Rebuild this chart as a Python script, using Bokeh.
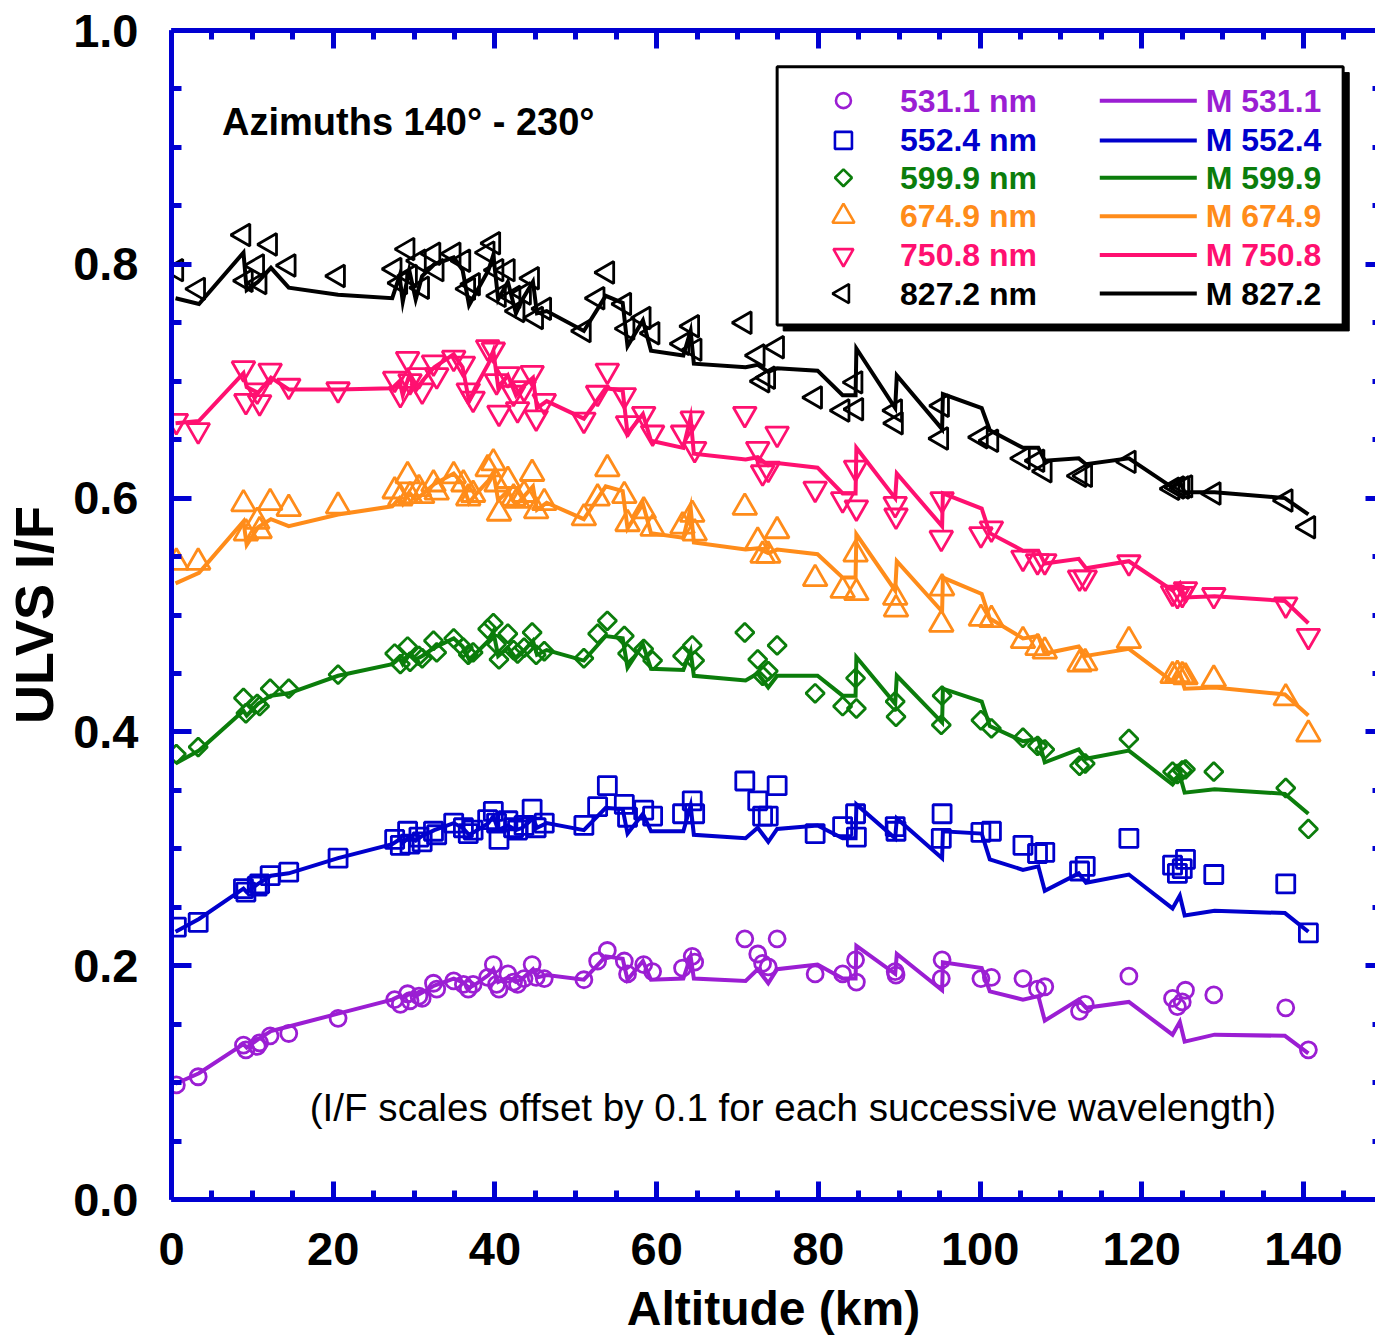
import math

from bokeh.plotting import figure
from bokeh.models import (Range1d, LinearAxis, SingleIntervalTicker,
                          PrintfTickFormatter, Label, ColumnDataSource)
from bokeh.core.properties import value
from bokeh.embed import file_html
from bokeh.resources import INLINE

# ---------------------------------------------------------------- data
# Altitudes (km) of the measured spectra, shared by every wavelength
obs_alt = [0.6, 3.3, 8.9, 9.2, 10.6, 10.9, 12.2, 14.5, 20.6, 27.6,
           28.3, 29.2, 29.5, 30.6, 31.0, 32.4, 32.8, 34.9, 36.1, 36.7,
           37.3, 39.1, 39.8, 40.2, 40.5, 41.6, 42.3, 42.8, 43.6, 44.6,
           45.1, 46.1, 51.0, 52.7, 53.9, 56.0, 56.4, 58.4, 59.5, 63.2,
           64.4, 64.7, 70.9, 72.5, 73.1, 73.8, 74.9, 79.6, 83.0, 84.6,
           84.7, 89.5, 89.6, 95.2, 95.3, 100.1, 101.4, 105.3, 107.1, 108.0,
           112.3, 113.0, 118.4, 123.8, 124.4, 125.0, 125.4, 128.9, 137.8, 140.6]

# Measured ULVS I/F (offset by 0.1 per wavelength)
obs_531 = [0.098, 0.105, 0.132, 0.128, 0.131, 0.134, 0.140, 0.142, 0.155, 0.171,
           0.167, 0.176, 0.170, 0.174, 0.172, 0.185, 0.180, 0.187, 0.184, 0.180,
           0.184, 0.190, 0.201, 0.184, 0.180, 0.193, 0.186, 0.184, 0.189, 0.201,
           0.190, 0.189, 0.188, 0.204, 0.213, 0.204, 0.193, 0.201, 0.195, 0.198,
           0.208, 0.203, 0.223, 0.210, 0.202, 0.199, 0.223, 0.193, 0.193, 0.205,
           0.186, 0.195, 0.192, 0.189, 0.205, 0.189, 0.190, 0.189, 0.180, 0.182,
           0.161, 0.167, 0.191, 0.172, 0.165, 0.169, 0.179, 0.175, 0.164, 0.128]
obs_552 = [0.233, 0.237, 0.266, 0.263, 0.268, 0.270, 0.277, 0.280, 0.292, 0.308,
           0.303, 0.315, 0.304, 0.310, 0.306, 0.315, 0.312, 0.322, 0.318, 0.313,
           0.316, 0.325, 0.332, 0.322, 0.308, 0.324, 0.318, 0.316, 0.320, 0.334,
           0.318, 0.322, 0.320, 0.336, 0.354, 0.338, 0.327, 0.333, 0.328, 0.330,
           0.341, 0.330, 0.358, 0.341, 0.328, 0.328, 0.354, 0.313, 0.319, 0.330,
           0.310, 0.319, 0.315, 0.309, 0.330, 0.314, 0.315, 0.303, 0.296, 0.297,
           0.281, 0.285, 0.309, 0.286, 0.279, 0.283, 0.291, 0.278, 0.270, 0.228]
obs_600 = [0.381, 0.387, 0.429, 0.416, 0.424, 0.422, 0.437, 0.437, 0.449, 0.467,
           0.458, 0.473, 0.460, 0.465, 0.463, 0.478, 0.468, 0.480, 0.472, 0.466,
           0.468, 0.488, 0.493, 0.475, 0.462, 0.484, 0.470, 0.467, 0.472, 0.485,
           0.466, 0.469, 0.463, 0.484, 0.495, 0.482, 0.467, 0.471, 0.461, 0.465,
           0.474, 0.461, 0.485, 0.462, 0.448, 0.452, 0.474, 0.433, 0.422, 0.446,
           0.420, 0.426, 0.413, 0.406, 0.431, 0.410, 0.403, 0.395, 0.388, 0.385,
           0.371, 0.373, 0.394, 0.366, 0.364, 0.367, 0.368, 0.366, 0.352, 0.317]
obs_675 = [0.545, 0.545, 0.595, 0.570, 0.580, 0.572, 0.596, 0.591, 0.593, 0.606,
           0.600, 0.619, 0.602, 0.608, 0.602, 0.612, 0.605, 0.619, 0.612, 0.600,
           0.603, 0.625, 0.630, 0.612, 0.587, 0.615, 0.600, 0.598, 0.603, 0.621,
           0.589, 0.596, 0.583, 0.600, 0.625, 0.602, 0.578, 0.589, 0.574, 0.576,
           0.586, 0.570, 0.592, 0.563, 0.551, 0.551, 0.572, 0.531, 0.521, 0.552,
           0.519, 0.515, 0.505, 0.492, 0.523, 0.497, 0.496, 0.478, 0.472, 0.469,
           0.458, 0.459, 0.478, 0.448, 0.449, 0.448, 0.447, 0.445, 0.429, 0.398]
obs_751 = [0.666, 0.658, 0.711, 0.683, 0.692, 0.682, 0.709, 0.696, 0.693, 0.702,
           0.689, 0.719, 0.700, 0.705, 0.692, 0.716, 0.705, 0.720, 0.715, 0.692,
           0.685, 0.729, 0.727, 0.700, 0.673, 0.706, 0.690, 0.676, 0.694, 0.707,
           0.669, 0.683, 0.667, 0.690, 0.709, 0.688, 0.664, 0.672, 0.656, 0.656,
           0.668, 0.642, 0.672, 0.642, 0.622, 0.625, 0.655, 0.608, 0.599, 0.626,
           0.592, 0.595, 0.585, 0.566, 0.599, 0.569, 0.574, 0.549, 0.546, 0.546,
           0.532, 0.532, 0.545, 0.519, 0.517, 0.518, 0.522, 0.517, 0.509, 0.482]
obs_827 = [0.795, 0.779, 0.825, 0.786, 0.799, 0.784, 0.817, 0.799, 0.790, 0.796,
           0.784, 0.813, 0.790, 0.803, 0.780, 0.809, 0.795, 0.809, 0.803, 0.779,
           0.783, 0.810, 0.818, 0.795, 0.773, 0.795, 0.772, 0.760, 0.775, 0.788,
           0.754, 0.762, 0.743, 0.771, 0.793, 0.766, 0.745, 0.754, 0.741, 0.732,
           0.747, 0.727, 0.750, 0.722, 0.700, 0.703, 0.729, 0.686, 0.675, 0.699,
           0.676, 0.675, 0.664, 0.651, 0.679, 0.652, 0.649, 0.634, 0.632, 0.623,
           0.619, 0.619, 0.631, 0.608, 0.609, 0.609, 0.610, 0.604, 0.598, 0.575]

# Model curve vertices (km), shared by every wavelength
mod_alt = [0.5, 3.4, 8.9, 9.3, 10.7, 12.3, 14.5, 20.6, 27.3,
           28.2, 28.6, 29.4, 30.2, 31.0, 32.5, 34.9, 36.0, 36.8, 37.6,
           39.2, 39.8, 40.4, 41.6, 42.6, 43.4, 44.7, 45.2, 46.4,
           51.0, 53.7, 55.8, 56.4, 58.3, 59.3, 63.3, 64.2, 64.6, 71.0,
           72.5, 73.8, 74.9, 79.9, 83.0, 84.6, 84.7, 89.5, 89.7, 95.3,
           95.4, 100.2, 101.2, 105.3, 107.2, 108.0, 112.2, 113.1, 118.4,
           123.8, 124.7, 125.3, 129.0, 137.7, 140.6]

mod_531 = [0.099, 0.108, 0.133, 0.130, 0.137, 0.144, 0.148, 0.159, 0.171,
           0.174, 0.172, 0.176, 0.174, 0.177, 0.183, 0.189, 0.186, 0.181, 0.184,
           0.192, 0.197, 0.186, 0.190, 0.186, 0.189, 0.197, 0.190, 0.192,
           0.188, 0.208, 0.206, 0.188, 0.204, 0.188, 0.189, 0.208, 0.189, 0.187,
           0.197, 0.185, 0.197, 0.201, 0.189, 0.189, 0.217, 0.193, 0.210, 0.179,
           0.203, 0.198, 0.178, 0.171, 0.174, 0.153, 0.171, 0.164, 0.169,
           0.141, 0.152, 0.135, 0.141, 0.140, 0.125]
mod_552 = [0.229, 0.240, 0.266, 0.263, 0.270, 0.277, 0.279, 0.292, 0.304,
           0.308, 0.305, 0.310, 0.307, 0.311, 0.316, 0.322, 0.318, 0.312, 0.315,
           0.322, 0.328, 0.316, 0.320, 0.316, 0.318, 0.326, 0.318, 0.322,
           0.316, 0.335, 0.334, 0.313, 0.330, 0.315, 0.315, 0.337, 0.312, 0.309,
           0.318, 0.306, 0.317, 0.320, 0.309, 0.309, 0.338, 0.309, 0.326, 0.292,
           0.315, 0.313, 0.291, 0.282, 0.285, 0.264, 0.279, 0.271, 0.278,
           0.249, 0.260, 0.243, 0.247, 0.245, 0.229]
mod_600 = [0.373, 0.384, 0.418, 0.414, 0.424, 0.431, 0.433, 0.448, 0.458,
           0.463, 0.458, 0.466, 0.462, 0.465, 0.472, 0.480, 0.473, 0.462, 0.467,
           0.478, 0.486, 0.465, 0.472, 0.463, 0.468, 0.478, 0.466, 0.470,
           0.461, 0.482, 0.480, 0.455, 0.475, 0.454, 0.453, 0.469, 0.448, 0.444,
           0.450, 0.438, 0.448, 0.448, 0.431, 0.431, 0.464, 0.424, 0.448, 0.408,
           0.437, 0.426, 0.405, 0.392, 0.394, 0.374, 0.385, 0.377, 0.384,
           0.355, 0.363, 0.348, 0.351, 0.347, 0.330]
mod_675 = [0.527, 0.536, 0.580, 0.560, 0.575, 0.582, 0.576, 0.586, 0.593,
           0.600, 0.595, 0.605, 0.598, 0.603, 0.612, 0.621, 0.612, 0.596, 0.603,
           0.615, 0.622, 0.598, 0.606, 0.594, 0.600, 0.610, 0.590, 0.596,
           0.582, 0.610, 0.606, 0.574, 0.595, 0.570, 0.566, 0.592, 0.562, 0.556,
           0.557, 0.553, 0.556, 0.552, 0.532, 0.532, 0.569, 0.521, 0.546, 0.503,
           0.532, 0.518, 0.497, 0.480, 0.482, 0.467, 0.473, 0.465, 0.471,
           0.443, 0.450, 0.437, 0.438, 0.432, 0.414]
mod_751 = [0.664, 0.666, 0.707, 0.695, 0.690, 0.703, 0.693, 0.693, 0.694,
           0.700, 0.688, 0.705, 0.692, 0.700, 0.712, 0.723, 0.712, 0.683, 0.695,
           0.715, 0.726, 0.695, 0.705, 0.688, 0.695, 0.703, 0.677, 0.683,
           0.668, 0.694, 0.692, 0.655, 0.672, 0.649, 0.643, 0.669, 0.638, 0.633,
           0.635, 0.628, 0.630, 0.626, 0.604, 0.604, 0.643, 0.600, 0.621, 0.576,
           0.604, 0.591, 0.570, 0.555, 0.555, 0.544, 0.548, 0.540, 0.546,
           0.521, 0.527, 0.515, 0.516, 0.512, 0.493]
mod_827 = [0.771, 0.766, 0.810, 0.778, 0.785, 0.797, 0.780, 0.774, 0.771,
           0.790, 0.768, 0.795, 0.770, 0.790, 0.800, 0.806, 0.795, 0.765, 0.775,
           0.795, 0.808, 0.770, 0.785, 0.758, 0.770, 0.785, 0.758, 0.760,
           0.743, 0.773, 0.767, 0.730, 0.752, 0.726, 0.722, 0.743, 0.715, 0.712,
           0.714, 0.708, 0.711, 0.709, 0.688, 0.688, 0.728, 0.677, 0.705, 0.659,
           0.689, 0.677, 0.658, 0.643, 0.643, 0.632, 0.634, 0.629, 0.634,
           0.609, 0.614, 0.605, 0.605, 0.600, 0.586]

wavelengths = ["531.1", "552.4", "599.9", "674.9", "750.8", "827.2"]
obs_labels = [w + " nm" for w in wavelengths]
mod_labels = ["M " + w for w in wavelengths]

# ---------------------------------------------------------------- styles
FONT = "Liberation Sans"
FRAME_BLUE = "#0000D2"
colors = ["#9B1ED3", "#0000CC", "#0B7D0B", "#FF8C1A", "#FF1070", "#000000"]
markers = ["circle", "square", "square", "triangle", "inverted_triangle", "triangle"]
sizes = [16, 18, 13, 24, 23, 22]
angles = [0.0, 0.0, math.pi / 4, 0.0, 0.0, math.pi / 2]

obs_series = [obs_531, obs_552, obs_600, obs_675, obs_751, obs_827]
mod_series = [mod_531, mod_552, mod_600, mod_675, mod_751, mod_827]

p = figure(width=1375, height=1337, output_backend="svg", toolbar_location=None,
           x_range=Range1d(0, 148.9), y_range=Range1d(0, 1.0),
           min_border_left=171, min_border_right=0,
           min_border_top=30, min_border_bottom=138,
           background_fill_color="white", border_fill_color="white",
           outline_line_color=None)
p.xgrid.grid_line_color = None
p.ygrid.grid_line_color = None


def style_axis(ax, tick_in=18, minor_in=9):
    ax.axis_line_color = FRAME_BLUE
    ax.axis_line_width = 5
    ax.major_tick_line_color = FRAME_BLUE
    ax.major_tick_line_width = 5
    ax.minor_tick_line_color = FRAME_BLUE
    ax.minor_tick_line_width = 5
    ax.major_tick_in = tick_in
    ax.major_tick_out = 0
    ax.minor_tick_in = minor_in
    ax.minor_tick_out = 0
    ax.major_label_text_font = FONT
    ax.major_label_text_font_style = "bold"
    ax.major_label_text_font_size = "47px"
    ax.major_label_text_color = "black"


def ticks_only(ax):
    # an axis that carries ticks but no tick labels
    ax.major_label_text_font_size = "1px"
    ax.major_label_text_color = None
    ax.major_label_standoff = 0


# bottom axis
xa = p.xaxis[0]
xa.ticker = SingleIntervalTicker(interval=20, num_minor_ticks=4)
style_axis(xa)
xa.major_label_standoff = 33
xa.axis_label = "Altitude (km)"
xa.axis_label_text_font = FONT
xa.axis_label_text_font_style = "bold"
xa.axis_label_text_font_size = "48px"
xa.axis_label_text_color = "black"
xa.axis_label_standoff = 14

# left axis
ya = p.yaxis[0]
ya.ticker = SingleIntervalTicker(interval=0.2, num_minor_ticks=4)
ya.formatter = PrintfTickFormatter(format="%.1f")
style_axis(ya, tick_in=20, minor_in=10)
ya.major_label_standoff = 33
ya.axis_label = "ULVS I/F"
ya.axis_label_text_font = FONT
ya.axis_label_text_font_style = "bold"
ya.axis_label_text_font_size = "54px"
ya.axis_label_text_color = "black"
ya.axis_label_standoff = 6

# top axis: ticks only
top = LinearAxis(ticker=SingleIntervalTicker(interval=20, num_minor_ticks=4))
style_axis(top)
ticks_only(top)
p.add_layout(top, "above")

# right axis: ticks only, frame edge sits at the page border
right = LinearAxis(ticker=SingleIntervalTicker(interval=0.2, num_minor_ticks=4))
style_axis(right, tick_in=10, minor_in=3)
right.axis_line_color = None
ticks_only(right)
p.add_layout(right, "right")

# ---------------------------------------------------------------- data marks
for col, mk, sz, ang, obs, mod in zip(colors, markers, sizes, angles,
                                      obs_series, mod_series):
    p.line(mod_alt, mod, line_color=col, line_width=4, line_join="miter")
    p.scatter(obs_alt, obs, marker=mk, size=sz, angle=ang,
              fill_color=None, line_color=col, line_width=2.8)

# ---------------------------------------------------------------- annotations
p.add_layout(Label(x=6.25, y=0.922, text="Azimuths 140° - 230°",
                   text_font=FONT, text_font_style="bold",
                   text_font_size="38px", text_color="black",
                   text_baseline="middle"))
p.add_layout(Label(x=17.1, y=0.079,
                   text="(I/F scales offset by 0.1 for each successive wavelength)",
                   text_font=FONT, text_font_size="38.6px", text_color="black",
                   text_baseline="middle"))

# ---------------------------------------------------------------- legend box
LEG_L, LEG_R, LEG_T, LEG_B = 74.9, 144.9, 0.969, 0.748
SHADOW_DX, SHADOW_DY = 0.75, 0.005
row_y = [0.940, 0.906, 0.874, 0.841, 0.808, 0.775]
MARK_X, OBS_TEXT_X = 83.1, 90.1
LINE_X0, LINE_X1, MOD_TEXT_X = 114.8, 126.8, 127.9
leg_sizes = [15, 17, 12, 22, 20, 19]

p.quad(left=LEG_L + SHADOW_DX, right=LEG_R + SHADOW_DX,
       top=LEG_T - SHADOW_DY, bottom=LEG_B - SHADOW_DY,
       fill_color="black", line_color="black")
p.quad(left=LEG_L, right=LEG_R, top=LEG_T, bottom=LEG_B,
       fill_color="white", line_color="black", line_width=3)

leg = ColumnDataSource(dict(
    y=row_y, color=colors, marker=markers, size=leg_sizes, angle=angles,
    obs_label=obs_labels, mod_label=mod_labels,
    mx=[MARK_X] * 6, tx=[OBS_TEXT_X] * 6,
    lx0=[LINE_X0] * 6, lx1=[LINE_X1] * 6, mtx=[MOD_TEXT_X] * 6,
))
p.scatter(x="mx", y="y", marker="marker", size="size", angle="angle",
          fill_color=None, line_color="color", line_width=2.6, source=leg)
p.text(x="tx", y="y", text="obs_label", text_color="color",
       text_font=value(FONT), text_font_style="bold", text_font_size="32px",
       text_baseline="middle", source=leg)
p.segment(x0="lx0", x1="lx1", y0="y", y1="y", line_color="color",
          line_width=4, source=leg)
p.text(x="mtx", y="y", text="mod_label", text_color="color",
       text_font=value(FONT), text_font_style="bold", text_font_size="32px",
       text_baseline="middle", source=leg)

open("out.html", "w").write(file_html(p, INLINE))
